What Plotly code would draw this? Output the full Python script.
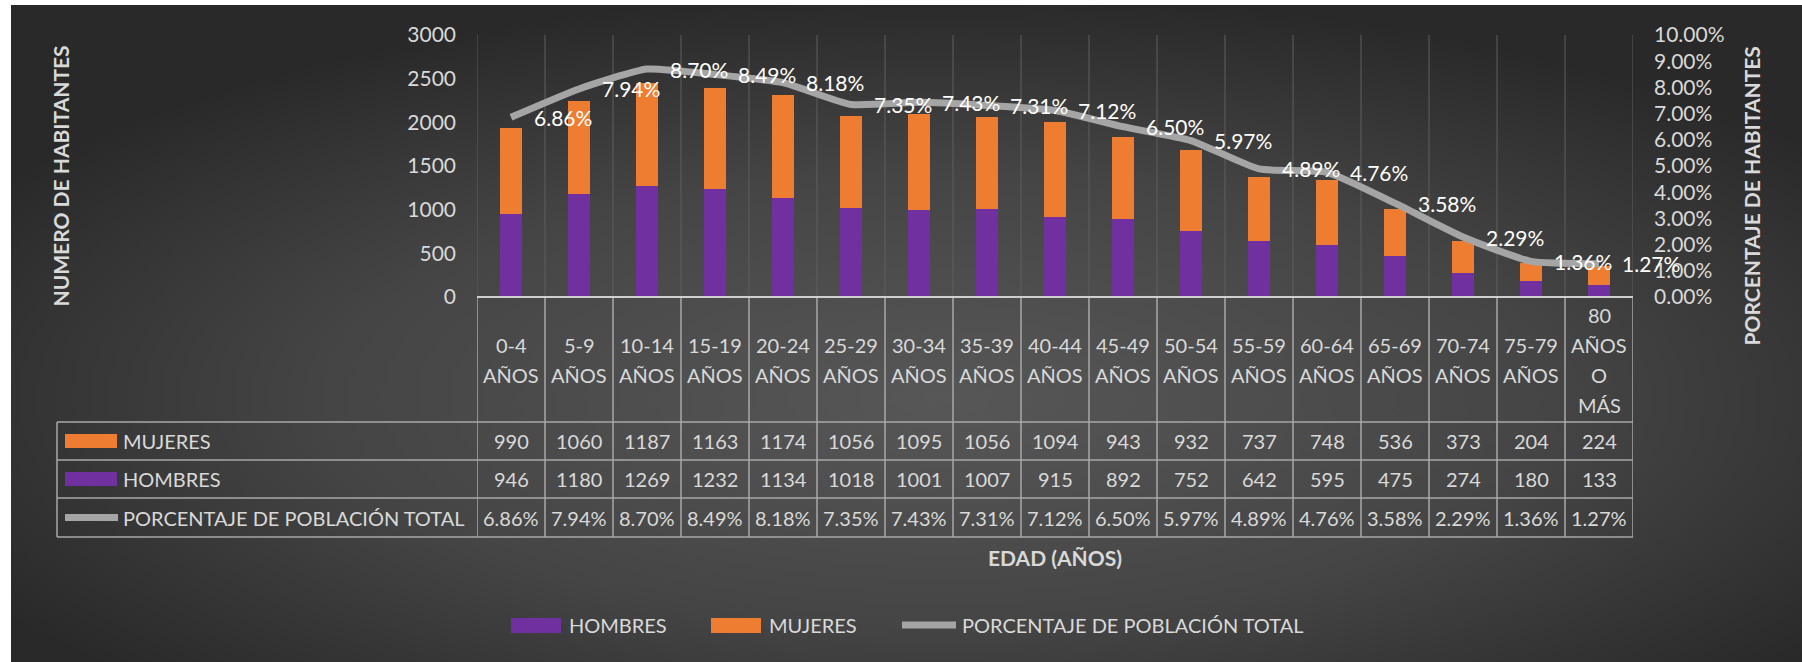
import base64
import plotly.graph_objects as go

# ---------------- data ----------------
categories = ["0-4 AÑOS", "5-9 AÑOS", "10-14 AÑOS", "15-19 AÑOS", "20-24 AÑOS",
              "25-29 AÑOS", "30-34 AÑOS", "35-39 AÑOS", "40-44 AÑOS", "45-49 AÑOS",
              "50-54 AÑOS", "55-59 AÑOS", "60-64 AÑOS", "65-69 AÑOS", "70-74 AÑOS",
              "75-79 AÑOS", "80 AÑOS O MÁS"]
mujeres = [990, 1060, 1187, 1163, 1174, 1056, 1095, 1056, 1094, 943, 932, 737, 748, 536, 373, 204, 224]
hombres = [946, 1180, 1269, 1232, 1134, 1018, 1001, 1007, 915, 892, 752, 642, 595, 475, 274, 180, 133]
porcentaje = [6.86, 7.94, 8.70, 8.49, 8.18, 7.35, 7.43, 7.31, 7.12, 6.50, 5.97, 4.89, 4.76, 3.58, 2.29, 1.36, 1.27]

series_names = ["HOMBRES", "MUJERES", "PORCENTAJE DE POBLACIÓN TOTAL"]
left_title = "NUMERO DE HABITANTES"
right_title = "PORCENTAJE DE HABITANTES"
x_title = "EDAD (AÑOS)"

# ---------------- style ----------------
W, H = 1802, 662
L, R, T, B = 477, 169, 35, 365
PW, PH = W - L - R, H - T - B
FONT = "Lato, 'Open Sans', sans-serif"
TXT = "#d9d9d9"
PURPLE = "#7030A0"
ORANGE = "#EE7D31"
GRAY = "#A5A5A5"
FS = 20


def px_x(x):
    return (x - L) / PW


def px_y(y):
    return (H - B - y) / PH


pct = [p / 100 for p in porcentaje]

fig = go.Figure()
fig.add_trace(go.Bar(x=categories, y=hombres, name=series_names[0],
                     marker=dict(color=PURPLE, line=dict(width=0)), width=0.33))
fig.add_trace(go.Bar(x=categories, y=mujeres, name=series_names[1],
                     marker=dict(color=ORANGE, line=dict(width=0)), width=0.33))
fig.add_trace(go.Scatter(x=categories, y=pct, name=series_names[2], yaxis="y2",
                         mode="lines", line=dict(color=GRAY, width=7, shape="spline", smoothing=0.5)))

shapes = []
annotations = []
n = len(categories)

# vertical gridlines inside plot and table columns
for i in range(n + 1):
    shapes.append(dict(type="line", xref="x", yref="paper", x0=i - 0.5, x1=i - 0.5,
                       y0=0, y1=1, line=dict(color="#5e5e5e", width=1), layer="below"))
    shapes.append(dict(type="line", xref="x", yref="paper", x0=i - 0.5, x1=i - 0.5,
                       y0=px_y(537), y1=0, line=dict(color="#a9a9a9", width=1.5)))
# axis line
shapes.append(dict(type="line", xref="paper", yref="paper", x0=0, x1=1, y0=0, y1=0,
                   line=dict(color="#cfcfcf", width=2)))
# table horizontal lines
for yy in (422, 460, 498, 537):
    shapes.append(dict(type="line", xref="paper", yref="paper", x0=px_x(57), x1=1,
                       y0=px_y(yy), y1=px_y(yy), line=dict(color="#a9a9a9", width=1.5)))
shapes.append(dict(type="line", xref="paper", yref="paper", x0=px_x(57), x1=px_x(57),
                   y0=px_y(422), y1=px_y(537), line=dict(color="#a9a9a9", width=1.5)))

# table row keys and labels
rows = [(series_names[1], mujeres, 441, "bar", ORANGE),
        (series_names[0], hombres, 479, "bar", PURPLE),
        (series_names[2], porcentaje, 517.5, "line", GRAY)]
for name, vals, yc, kind, col in rows:
    if kind == "bar":
        shapes.append(dict(type="rect", xref="paper", yref="paper", x0=px_x(65), x1=px_x(117),
                           y0=px_y(yc - 7), y1=px_y(yc + 7), fillcolor=col, line=dict(width=0)))
    else:
        shapes.append(dict(type="line", xref="paper", yref="paper", x0=px_x(65), x1=px_x(118),
                           y0=px_y(yc), y1=px_y(yc), line=dict(color=col, width=7)))
    annotations.append(dict(text=name, xref="paper", yref="paper", x=px_x(121), y=px_y(yc),
                            xanchor="left", yanchor="middle", showarrow=False,
                            font=dict(family=FONT, size=FS, color=TXT)))
    for c, v in zip(categories, vals):
        t = f"{v:.2f}%" if kind == "line" else str(v)
        annotations.append(dict(text=t, xref="x", yref="paper", x=c, y=px_y(yc),
                                xanchor="center", yanchor="middle", showarrow=False,
                                font=dict(family=FONT, size=FS, color=TXT)))

# header (category labels)
for c in categories:
    parts = c.split(" ")
    m = len(parts)
    for j, p in enumerate(parts):
        yy = 359.5 + (j - (m - 1) / 2) * 30
        annotations.append(dict(text=p, xref="x", yref="paper", x=c, y=px_y(yy),
                                xanchor="center", yanchor="middle", showarrow=False,
                                font=dict(family=FONT, size=FS, color=TXT)))

# line data labels
for c, v, p in zip(categories, pct, porcentaje):
    annotations.append(dict(text=f"{p:.2f}%", xref="x", yref="y2", x=c, y=v,
                            xanchor="left", yanchor="middle", xshift=21, showarrow=False,
                            font=dict(family=FONT, size=21, color="#ffffff")))

# titles
annotations.append(dict(text=f"<b>{left_title}</b>", xref="paper", yref="paper",
                        x=px_x(60), y=px_y(44), xanchor="center", yanchor="top", textangle=-90,
                        showarrow=False, font=dict(family=FONT, size=21, color=TXT)))
annotations.append(dict(text=f"<b>{right_title}</b>", xref="paper", yref="paper",
                        x=px_x(1751), y=px_y(44), xanchor="center", yanchor="top", textangle=-90,
                        showarrow=False, font=dict(family=FONT, size=21, color=TXT)))
annotations.append(dict(text=f"<b>{x_title}</b>", xref="paper", yref="paper",
                        x=0.5, y=px_y(557), xanchor="center", yanchor="middle",
                        showarrow=False, font=dict(family=FONT, size=21, color=TXT)))

# manual legend
leg = [(series_names[0], "bar", PURPLE, 511, 561, 567),
       (series_names[1], "bar", ORANGE, 711, 761, 767),
       (series_names[2], "line", GRAY, 902, 956, 960)]
for name, kind, col, x0, x1, xt in leg:
    if kind == "bar":
        shapes.append(dict(type="rect", xref="paper", yref="paper", x0=px_x(x0), x1=px_x(x1),
                           y0=px_y(618), y1=px_y(633), fillcolor=col, line=dict(width=0)))
    else:
        shapes.append(dict(type="line", xref="paper", yref="paper", x0=px_x(x0), x1=px_x(x1),
                           y0=px_y(625), y1=px_y(625), line=dict(color=col, width=7)))
    annotations.append(dict(text=name, xref="paper", yref="paper", x=px_x(xt), y=px_y(625),
                            xanchor="left", yanchor="middle", showarrow=False,
                            font=dict(family=FONT, size=FS, color=TXT)))

# background radial gradient
bw, bh = W - 11, H - 5
svg = (f'<svg xmlns="http://www.w3.org/2000/svg" width="{bw}" height="{bh}" viewBox="0 0 {bw} {bh}" '
       f'preserveAspectRatio="none"><defs><radialGradient id="g" cx="0.52" cy="0.6" r="0.62">'
       f'<stop offset="0" stop-color="#575757"/><stop offset="0.55" stop-color="#454545"/>'
       f'<stop offset="1" stop-color="#292929"/></radialGradient></defs>'
       f'<rect width="{bw}" height="{bh}" fill="url(#g)"/></svg>')
uri = "data:image/svg+xml;base64," + base64.b64encode(svg.encode()).decode()

fig.update_layout(
    width=W, height=H, autosize=False,
    margin=dict(l=L, r=R, t=T, b=B, pad=0),
    paper_bgcolor="white", plot_bgcolor="rgba(0,0,0,0)",
    barmode="stack", showlegend=False,
    font=dict(family=FONT, size=FS, color=TXT),
    xaxis=dict(type="category", range=[-0.5, n - 0.5], showticklabels=False, showgrid=False,
               zeroline=False, showline=False, ticks=""),
    yaxis=dict(range=[0, 3000], dtick=500, showgrid=False, zeroline=False, showline=False,
               ticks="", ticklabelstandoff=20, tickfont=dict(family=FONT, size=21, color=TXT)),
    yaxis2=dict(range=[0, 0.10], dtick=0.01, tickformat=".2%", overlaying="y", side="right",
                showgrid=False, zeroline=False, showline=False, ticks="", ticklabelstandoff=20,
                tickfont=dict(family=FONT, size=21, color=TXT)),
    shapes=shapes, annotations=annotations,
    images=[dict(source=uri, xref="paper", yref="paper", x=px_x(11), y=px_y(5),
                 sizex=bw / PW, sizey=bh / PH, xanchor="left", yanchor="top",
                 sizing="stretch", layer="below")],
)

fig.write_html("out.html", config={"displayModeBar": False},
               post_script="document.body.style.margin='0';")
